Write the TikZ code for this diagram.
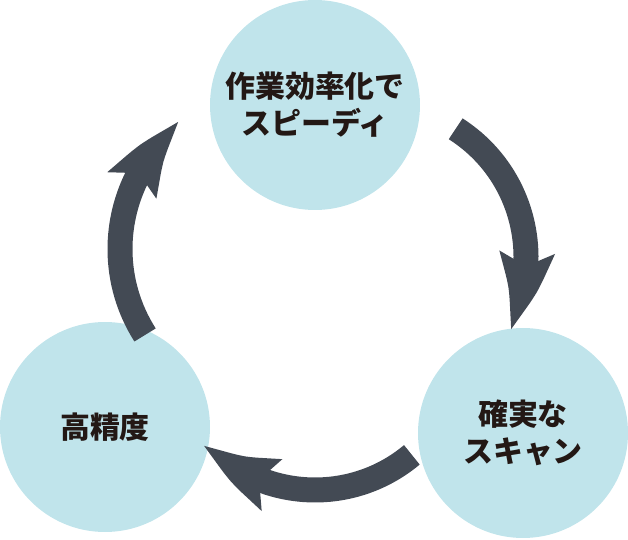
\documentclass[tikz,border=0pt]{standalone}
\usepackage{fontspec}
\newfontfamily\jpfont{Noto Sans CJK JP}
\usetikzlibrary{arrows.meta,bending,positioning}
\definecolor{cyclefill}{HTML}{C0E4EB}
\definecolor{cyclearrow}{HTML}{434A54}
\definecolor{cycletext}{HTML}{231815}

\begin{document}
\begin{tikzpicture}[>=Stealth]
 \tikzset{stage/.style={circle,fill=cyclefill,minimum size=5.25cm,inner sep=0pt,align=center,text=cycletext,font=\jpfont\bfseries\fontsize{21.3}{26.3}\selectfont},
  flow/.style={line width=0.625cm,cyclearrow,-{Stealth[length=2cm,width=1.28cm,inset=0.3cm,bend]}}}
 \useasboundingbox (0,0) rectangle (15.7,13.475);
 \node[stage] (speed) at (7.875,10.85) {作業効率化で\\スピーディ};
 \node[stage] (accuracy) at (2.625,2.8) {高精度};
 \node[stage] (scan) at (13.075,2.65) {確実な\\スキャン};
 % arc centres of the three arrows
 \coordinate (c1) at (9.35,7.05);
 \coordinate (c2) at (7.875,5.0);
 \coordinate (c3) at (7.0,7.25);
 \draw[flow] ([shift={(57.5:3.8)}]c1) arc[start angle=57.5,end angle=-28.6,radius=3.8];
 \draw[flow] ([shift={(-50.1:3.775)}]c2) arc[start angle=-50.1,end angle=-136.9,radius=3.775];
 \draw[flow] ([shift={(212.5:4)}]c3) arc[start angle=212.5,end angle=127.9,radius=4];
\end{tikzpicture}
\end{document}
